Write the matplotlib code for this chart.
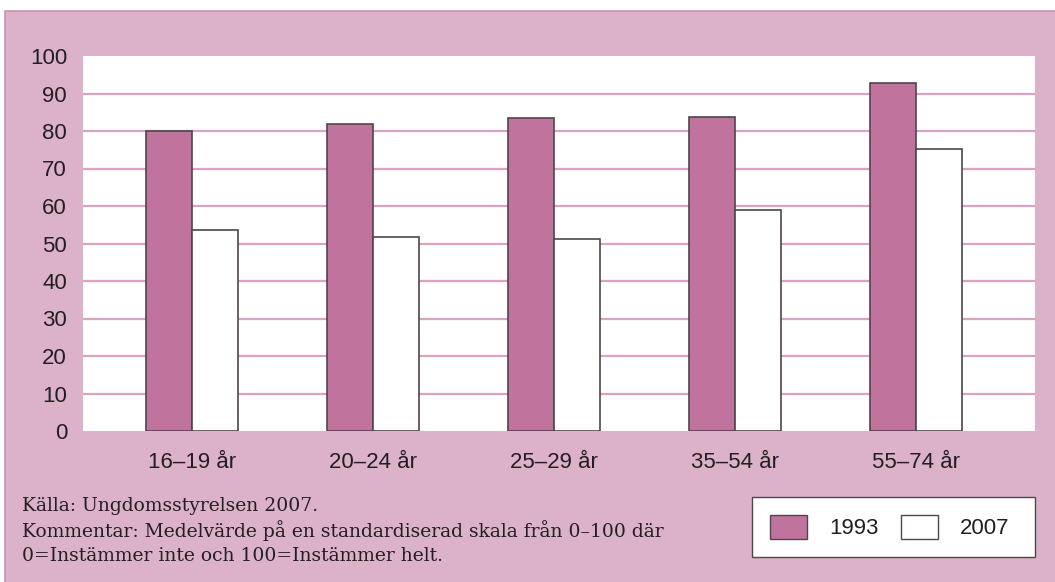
import matplotlib.pyplot as plt
from matplotlib.patches import Rectangle, Patch
import numpy as np

# data
groups = ["16–19 år", "20–24 år", "25–29 år", "35–54 år", "55–74 år"]
v1993 = [80, 82, 83.5, 83.8, 92.8]
v2007 = [53.5, 51.8, 51.2, 59, 75.2]
yticks = [0, 10, 20, 30, 40, 50, 60, 70, 80, 90, 100]

pink_bg = "#dbb2ca"
pink_bar = "#c0739c"
pink_grid = "#d9a3c2"
txt = "#231f20"
edge = "#4f454b"

sans = ["Liberation Sans", "DejaVu Sans"]
serif = ["DejaVu Serif"]

fig = plt.figure(figsize=(10.55, 5.82), dpi=100)
fig.patch.set_facecolor("white")
# pink panel behind everything
fig.patches.append(Rectangle((5 / 1055, -0.01), 1.1, (571 / 582) + 0.01,
                             transform=fig.transFigure, facecolor=pink_bg,
                             edgecolor="#cf8fb3", lw=1.2, zorder=-10))
# legend box
fig.patches.append(Rectangle((752 / 1055, 1 - 557 / 582), (1035 - 752) / 1055, 60 / 582,
                             transform=fig.transFigure, facecolor="white",
                             edgecolor=edge, lw=1, zorder=-5))

ax = fig.add_axes([83 / 1055, 1 - 431 / 582, (1035 - 83) / 1055, (431 - 56) / 582])
ax.set_facecolor("white")

x = np.arange(len(groups))
w = 0.254
ax.bar(x - w / 2, v1993, w, color=pink_bar, edgecolor=edge, lw=1.2, zorder=3)
ax.bar(x + w / 2, v2007, w, color="white", edgecolor=edge, lw=1.2, zorder=3)

ax.set_ylim(0, 100)
ax.set_xlim(-0.6, 4.66)
for yv in yticks[1:-1]:
    ax.axhline(yv, color=pink_grid, lw=1.6, zorder=1)
for s in ax.spines.values():
    s.set_visible(False)
ax.set_yticks(yticks)
ax.set_yticklabels([str(t) for t in yticks], family=sans, fontsize=16, color=txt)
ax.set_xticks(x)
ax.set_xticklabels(groups, family=sans, fontsize=16, color=txt)
ax.tick_params(length=0)
ax.tick_params(axis="y", pad=11.5)
ax.tick_params(axis="x", pad=15)

notes = ["Källa: Ungdomsstyrelsen 2007.",
         "Kommentar: Medelvärde på en standardiserad skala från 0–100 där",
         "0=Instämmer inte och 100=Instämmer helt."]
for i, line in enumerate(notes):
    fig.text(22 / 1055, 1 - (506 + i * 25) / 582, line, family=serif,
             fontsize=13.5, color=txt, va="center", ha="left")

handles = [Patch(facecolor=pink_bar, edgecolor=edge, lw=1),
           Patch(facecolor="white", edgecolor=edge, lw=1)]
leg = fig.legend(handles, ["1993", "2007"], loc="center left",
                 bbox_to_anchor=(770 / 1055, 1 - 527 / 582), ncol=2,
                 prop={"family": sans, "size": 16}, frameon=False,
                 handlelength=1.67, handleheight=1.3,
                 handletextpad=1.0, columnspacing=1.0, borderpad=0,
                 borderaxespad=0)
for t in leg.get_texts():
    t.set_color(txt)

fig.savefig("out.png", dpi=100)
